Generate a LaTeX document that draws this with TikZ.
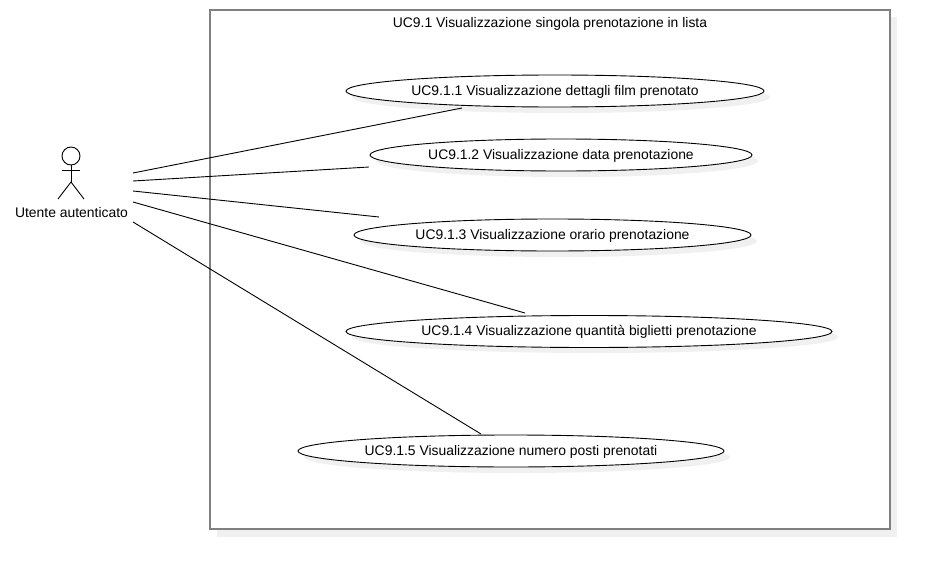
\documentclass[tikz,border=0pt]{standalone}
\usepackage{fontspec}
\setmainfont{Liberation Sans}
\usetikzlibrary{shapes.geometric}
\definecolor{softgrey}{HTML}{F0F0F0}
\definecolor{frameline}{HTML}{808080}
\tikzset{
  usecase/.style={ellipse,draw=black,line width=0.9pt,fill=white,inner sep=0pt,minimum height=32pt,font=\fontsize{13.9}{16}\selectfont,text=black,text height=10pt,text depth=2pt},
  caseshade/.style={ellipse,fill=softgrey,inner sep=0pt,minimum height=32pt},
  link/.style={draw=black,line width=0.9pt},
  stick/.style={draw=black,line width=0.9pt},
  lbl/.style={font=\fontsize{13.9}{16}\selectfont,text=black,inner sep=0pt,text height=10pt,text depth=2pt}
}
\begin{document}
\begin{tikzpicture}[x=1pt,y=-1pt]
\useasboundingbox (0,0) rectangle (930,570);
\fill[white] (0,0) rectangle (930,570);
% system boundary
\fill[softgrey] (217,17) rectangle (897,537);
\node[draw=frameline,line width=2pt,fill=white,inner sep=0pt,minimum width=680pt,minimum height=519pt] (sys) at (550,269.5) {};
\node[lbl] (systitle) at (550,23.5) {UC9.1 Visualizzazione singola prenotazione in lista};
% shadows
\node[caseshade,minimum width=418pt] (s1) at (561,97) {};
\node[caseshade,minimum width=382pt] (s2) at (567,161) {};
\node[caseshade,minimum width=397pt] (s3) at (558.5,241) {};
\node[caseshade,minimum width=486pt] (s4) at (595,337) {};
\node[caseshade,minimum width=426pt] (s5) at (517,457) {};
% use cases
\node[usecase,minimum width=418pt] (u1) at (555,91) {UC9.1.1 Visualizzazione dettagli film prenotato};
\node[usecase,minimum width=382pt] (u2) at (561,155) {UC9.1.2 Visualizzazione data prenotazione};
\node[usecase,minimum width=397pt] (u3) at (552.5,235) {UC9.1.3 Visualizzazione orario prenotazione};
\node[usecase,minimum width=486pt] (u4) at (589,331.5) {UC9.1.4 Visualizzazione quantità biglietti prenotazione};
\node[usecase,minimum width=426pt] (u5) at (511,451) {UC9.1.5 Visualizzazione numero posti prenotati};
% actor
\node[circle,stick,minimum size=18pt,inner sep=0pt] (head) at (71,156) {};
\coordinate (hip) at (71,182);
\draw[stick] (head.south) -- (hip);
\coordinate (armL) at (62,170);
\coordinate (armR) at (80,170);
\coordinate (legL) at (58,199);
\coordinate (legR) at (84,199);
\draw[stick] (armL) -- (armR);
\draw[stick] (legL) -- (hip) -- (legR);
\node[lbl] (actor) at (71.5,213) {Utente autenticato};
% connectors
\coordinate (a1) at (133,173);
\coordinate (a2) at (133,181);
\coordinate (a3) at (133,191);
\coordinate (a4) at (133,202);
\coordinate (a5) at (133,222);
\coordinate (e1) at (462,108);
\coordinate (e2) at (369,167);
\coordinate (e3) at (379,217);
\coordinate (e4) at (525,313);
\coordinate (e5) at (481,434);
\draw[link] (a1) -- (e1);
\draw[link] (a2) -- (e2);
\draw[link] (a3) -- (e3);
\draw[link] (a4) -- (e4);
\draw[link] (a5) -- (e5);
\end{tikzpicture}
\end{document}
